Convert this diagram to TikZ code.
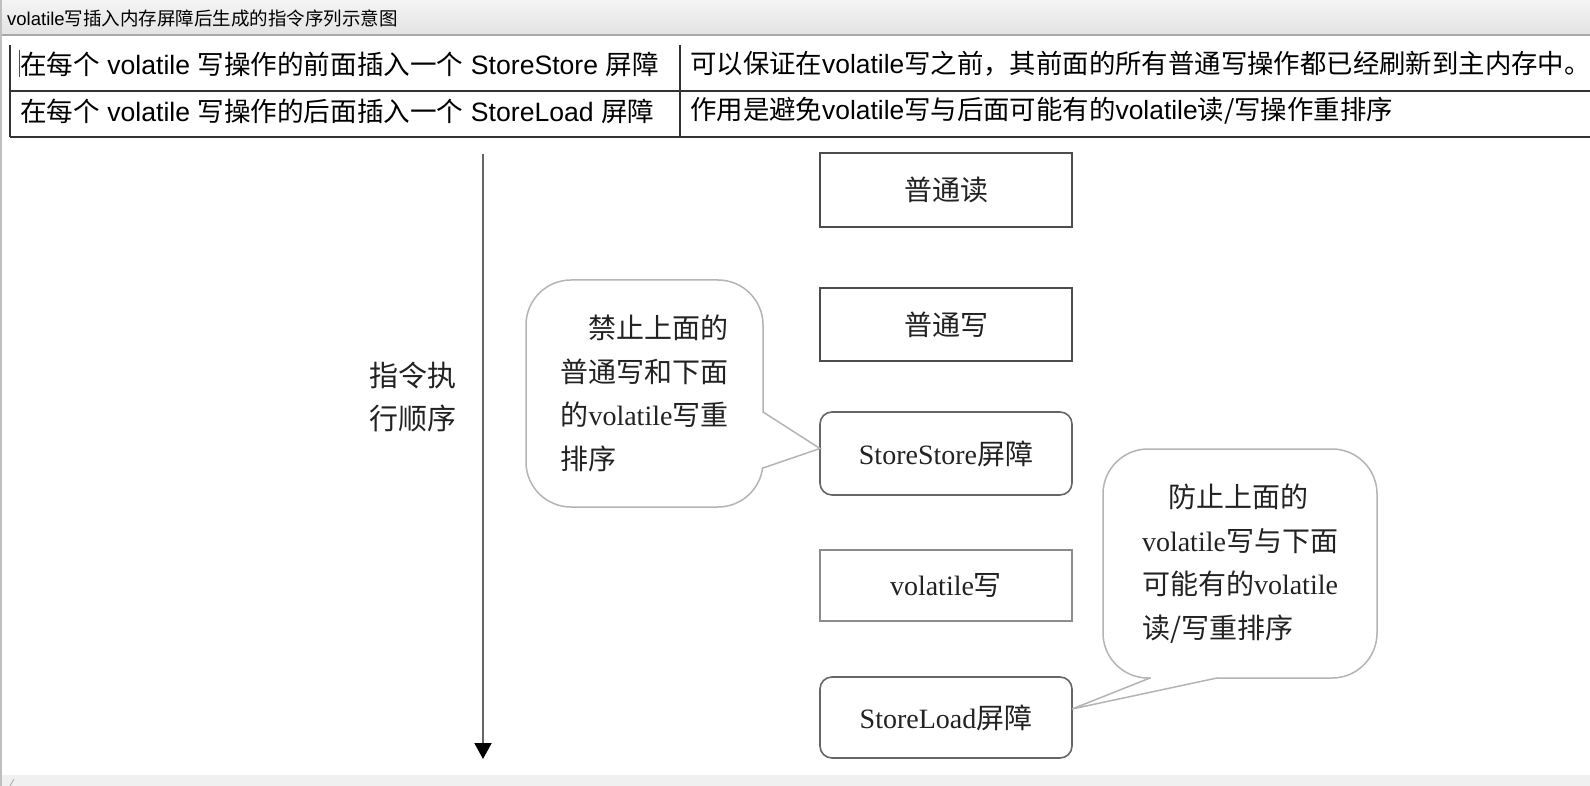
\documentclass[tikz,border=0pt]{standalone}
\usepackage{fontspec}
\setmainfont{Liberation Serif}
\newfontfamily\cjk{Noto Sans CJK SC}
\newfontfamily\arial{Liberation Sans}
\newcommand{\zh}[1]{{\cjk #1}}
\usepackage{xcolor}
\usepackage{tikz}
\usetikzlibrary{arrows.meta}
\definecolor{barTop}{HTML}{F4F4F4}
\definecolor{barBot}{HTML}{E3E3E3}
\definecolor{barLine}{HTML}{A8A8A8}
\definecolor{bubbleGray}{HTML}{B4B4B4}
\definecolor{inkGray}{HTML}{222222}

\begin{document}
\begin{tikzpicture}[x=1pt,y=-1pt,
  cell/.style={anchor=west, inner sep=0pt, text=black, font=\arial\fontsize{26.4}{30}\selectfont},
  opbox/.style={draw=#1, line width=1.6pt, minimum width=252pt, inner sep=0pt, outer sep=0pt, text=inkGray, font=\fontsize{28}{34}\selectfont},
  callout/.style={draw=bubbleGray, line width=1.5pt, rounded corners=45pt, inner sep=0pt, outer sep=0pt, align=left, text=inkGray, font=\fontsize{28}{43.5}\selectfont},
  calloutline/.style={draw=bubbleGray, line width=1.5pt, line join=miter},
  tableline/.style={draw=black!80, line width=1.8pt},
  flow/.style={draw=black!60, line width=2pt, -{Triangle[width=17pt,length=16pt,color=black]}}]
\useasboundingbox (0,0) rectangle (1590,786);
\fill[white] (0,0) rectangle (1590,786);

\shade[top color=barTop, bottom color=barBot] (0,0) rectangle (1590,35);
\draw[barLine, line width=1.5pt] (0,35) -- (1590,35);
\fill[black!6] (0,775) rectangle (1590,786);
\draw[black!30, line width=1pt] (10,786) -- (14,779);
\draw[black!25, line width=1.5pt] (1,0) -- (1,786);
\node[anchor=west, inner sep=0pt, font=\arial\fontsize{18.5}{20}\selectfont] (title) at (7,18) {volatile\zh{写插入内存屏障后生成的指令序列示意图}};

\draw[tableline] (10,45) -- (10,137);
\draw[tableline] (680,45) -- (680,137);
\draw[tableline] (10,91) -- (1590,91);
\draw[tableline] (10,137) -- (1590,137);
\draw[black!70, line width=1pt] (19,50) -- (19,77);
\node[cell, font=\arial\fontsize{26.6}{30}\selectfont] (r1a) at (20,64) {\zh{在每个} volatile \zh{写操作的前面插入一个} StoreStore \zh{屏障}};
\node[cell, font=\arial\fontsize{26.6}{30}\selectfont] (r2a) at (20,111) {\zh{在每个} volatile \zh{写操作的后面插入一个} StoreLoad \zh{屏障}};
\node[cell] (r1b) at (690,64) {\zh{可以保证在}volatile\zh{写之前，其前面的所有普通写操作都已经刷新到主内存中。}};
\node[cell] (r2b) at (690,111) {\zh{作用是避免}volatile\zh{写与后面可能有的}volatile\zh{读/写操作重排序}};

\coordinate (t0) at (483,154);
\coordinate (t1) at (483,759);
\draw[flow] (t0) -- (t1);
\node[align=center, text=inkGray, font=\cjk\fontsize{29}{43}\selectfont] (order) at (413,397) {指令执\\行顺序};

\node[opbox=black!70, minimum height=74pt] (nr) at (946,190) {\zh{普通读}};
\node[opbox=black!70, minimum height=73pt] (nw) at (946,324.5) {\zh{普通写}};
\node[opbox=black!60, minimum height=83pt, rounded corners=12pt] (ss) at (946,453.5) {StoreStore\zh{屏障}};
\node[opbox=black!45, minimum height=71pt] (vw) at (946,585.5) {volatile\zh{写}};
\node[opbox=black!60, minimum height=81pt, rounded corners=12pt] (sl) at (946,717.5) {StoreLoad\zh{屏障}};

\node[callout, minimum width=237pt, minimum height=227pt] (b1) at (644.5,393.5) {\hspace*{28pt}\zh{禁止上面的}\\\zh{普通写和下面}\\\zh{的}volatile\zh{写重}\\\zh{排序}};
\node[callout, minimum width=274pt, minimum height=229pt] (b2) at (1240,563.5) {\hspace*{26pt}\zh{防止上面的}\\volatile\zh{写与下面}\\\zh{可能有的}volatile\\\zh{读/写重排序}};

\fill[white] ([xshift=-2pt,yshift=-19.5pt]b1.east) rectangle ([xshift=2pt,yshift=-73.5pt]b1.east);
\draw[calloutline] ([yshift=-18.5pt]b1.east) -- ([yshift=5pt]ss.west) -- ([yshift=-74.5pt]b1.east);
\fill[white] ([xshift=-89pt,yshift=2pt]b2.south) rectangle ([xshift=-24pt,yshift=-2pt]b2.south);
\draw[calloutline] ([xshift=-90pt]b2.south) -- ([yshift=8.5pt]sl.east) -- ([xshift=-23pt]b2.south);
\end{tikzpicture}
\end{document}
